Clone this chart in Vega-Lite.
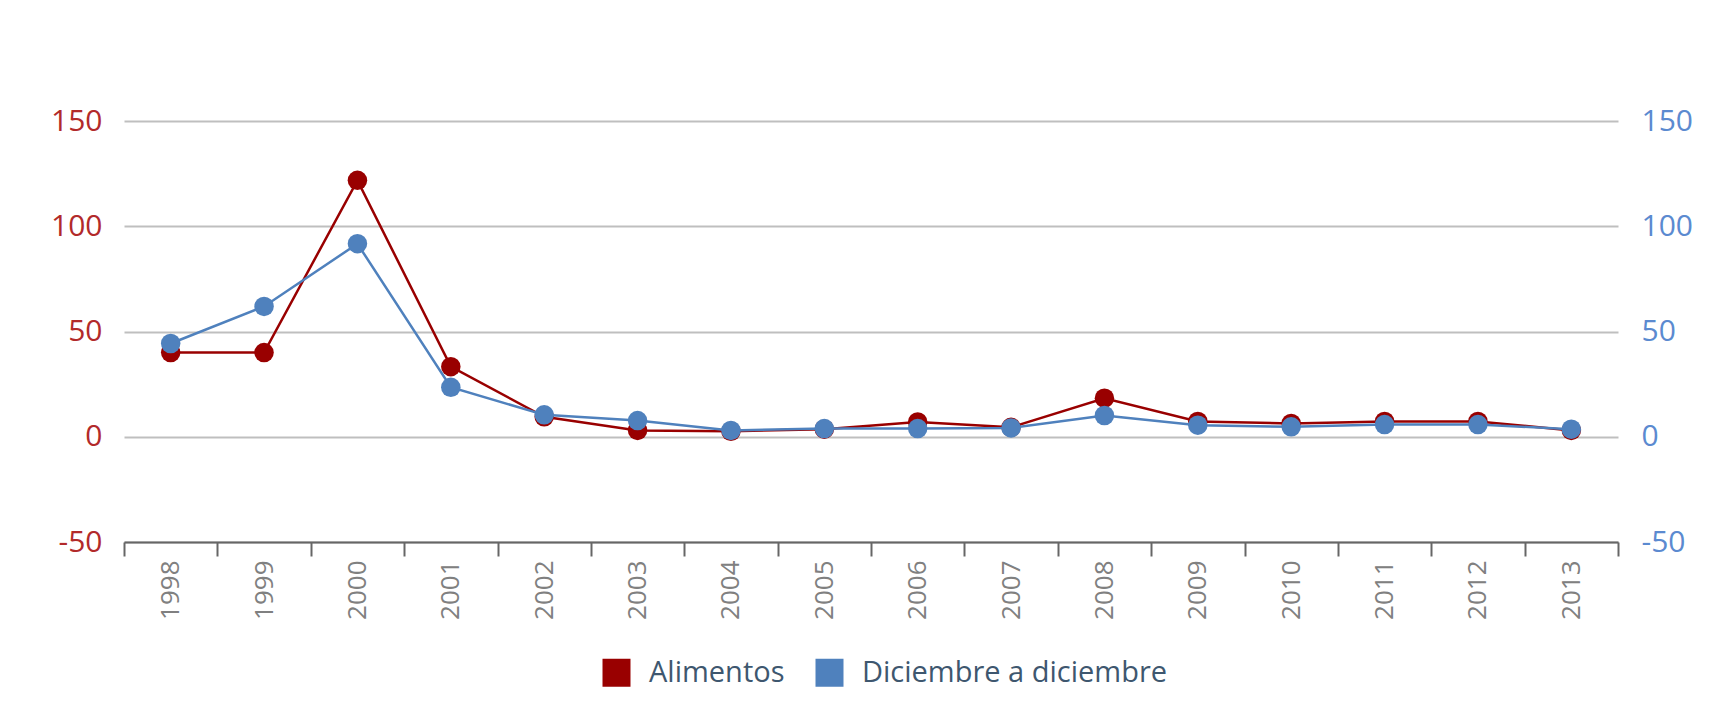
{
  "$schema": "https://vega.github.io/schema/vega-lite/v6.json",
  "width": 1494,
  "height": 421,
  "autosize": {"type": "none"},
  "padding": {"left": 124, "top": 121, "right": 109, "bottom": 166},
  "background": "white",
  "config": {"font": "Open Sans", "view": {"stroke": null}},
  "data": {
    "values": [
      {"year": "1998", "series": "Alimentos", "value": 40.0},
      {"year": "1999", "series": "Alimentos", "value": 40.0},
      {"year": "2000", "series": "Alimentos", "value": 121.8},
      {"year": "2001", "series": "Alimentos", "value": 33.3},
      {"year": "2002", "series": "Alimentos", "value": 9.5},
      {"year": "2003", "series": "Alimentos", "value": 3.0},
      {"year": "2004", "series": "Alimentos", "value": 2.6},
      {"year": "2005", "series": "Alimentos", "value": 3.6},
      {"year": "2006", "series": "Alimentos", "value": 7.0},
      {"year": "2007", "series": "Alimentos", "value": 4.5},
      {"year": "2008", "series": "Alimentos", "value": 18.3},
      {"year": "2009", "series": "Alimentos", "value": 7.3},
      {"year": "2010", "series": "Alimentos", "value": 6.3},
      {"year": "2011", "series": "Alimentos", "value": 7.3},
      {"year": "2012", "series": "Alimentos", "value": 7.3},
      {"year": "2013", "series": "Alimentos", "value": 3.0},
      {"year": "1998", "series": "Diciembre a diciembre", "value": 44.3},
      {"year": "1999", "series": "Diciembre a diciembre", "value": 61.9},
      {"year": "2000", "series": "Diciembre a diciembre", "value": 91.7},
      {"year": "2001", "series": "Diciembre a diciembre", "value": 23.5},
      {"year": "2002", "series": "Diciembre a diciembre", "value": 10.4},
      {"year": "2003", "series": "Diciembre a diciembre", "value": 7.7},
      {"year": "2004", "series": "Diciembre a diciembre", "value": 3.0},
      {"year": "2005", "series": "Diciembre a diciembre", "value": 3.9},
      {"year": "2006", "series": "Diciembre a diciembre", "value": 3.9},
      {"year": "2007", "series": "Diciembre a diciembre", "value": 4.2},
      {"year": "2008", "series": "Diciembre a diciembre", "value": 10.1},
      {"year": "2009", "series": "Diciembre a diciembre", "value": 5.5},
      {"year": "2010", "series": "Diciembre a diciembre", "value": 4.7},
      {"year": "2011", "series": "Diciembre a diciembre", "value": 5.8},
      {"year": "2012", "series": "Diciembre a diciembre", "value": 5.8},
      {"year": "2013", "series": "Diciembre a diciembre", "value": 3.6}
    ]
  },
  "encoding": {
    "x": {
      "field": "year",
      "type": "ordinal",
      "scale": {"type": "band", "paddingInner": 0, "paddingOuter": 0},
      "axis": {
        "title": null,
        "labelAngle": 270,
        "labelFontSize": 26,
        "labelColor": "#808080",
        "domainColor": "#666666",
        "domainWidth": 2,
        "tickColor": "#666666",
        "tickWidth": 2,
        "tickSize": 14,
        "tickBand": "extent",
        "grid": false,
        "labelPadding": 4
      }
    },
    "color": {
      "field": "series",
      "type": "nominal",
      "scale": {"domain": ["Alimentos", "Diciembre a diciembre"], "range": ["#990000", "#4f81bd"]},
      "legend": {
        "title": null,
        "orient": "none",
        "legendX": 478,
        "legendY": 537,
        "direction": "horizontal",
        "symbolType": "square",
        "symbolSize": 784,
        "symbolStrokeWidth": 0,
        "symbolOpacity": 1,
        "labelFontSize": 29,
        "labelColor": "#3e576f",
        "labelOffset": 18,
        "labelLimit": 600,
        "columnPadding": 30
      }
    }
  },
  "layer": [
    {
      "transform": [{"filter": "datum.series === 'Alimentos'"}],
      "encoding": {
        "y": {
          "field": "value",
          "type": "quantitative",
          "scale": {"domain": [-50, 150], "nice": false, "zero": false},
          "axis": {
            "orient": "left",
            "title": null,
            "values": [-50, 0, 50, 100, 150],
            "labelExpr": "'' + datum.value",
            "labelFontSize": 30,
            "labelColor": "#b22a2a",
            "grid": true,
            "gridColor": "#bfbfbf",
            "gridWidth": 2,
            "domain": false,
            "ticks": false,
            "tickSize": 0,
            "labelPadding": 22
          }
        }
      },
      "layer": [
        {"mark": {"type": "line", "strokeWidth": 2.5}},
        {"mark": {"type": "point", "filled": true, "size": 380, "opacity": 1}}
      ]
    },
    {
      "transform": [{"filter": "datum.series === 'Diciembre a diciembre'"}],
      "encoding": {
        "y": {
          "field": "value",
          "type": "quantitative",
          "scale": {"domain": [-50, 150], "nice": false, "zero": false},
          "axis": {
            "orient": "right",
            "title": null,
            "values": [-50, 0, 50, 100, 150],
            "labelExpr": "'' + datum.value",
            "labelFontSize": 30,
            "labelColor": "#5b8ad0",
            "grid": false,
            "domain": false,
            "ticks": false,
            "tickSize": 0,
            "labelPadding": 23
          }
        }
      },
      "layer": [
        {"mark": {"type": "line", "strokeWidth": 2.5}},
        {"mark": {"type": "point", "filled": true, "size": 380, "opacity": 1}}
      ]
    }
  ],
  "resolve": {"scale": {"y": "independent"}}
}
